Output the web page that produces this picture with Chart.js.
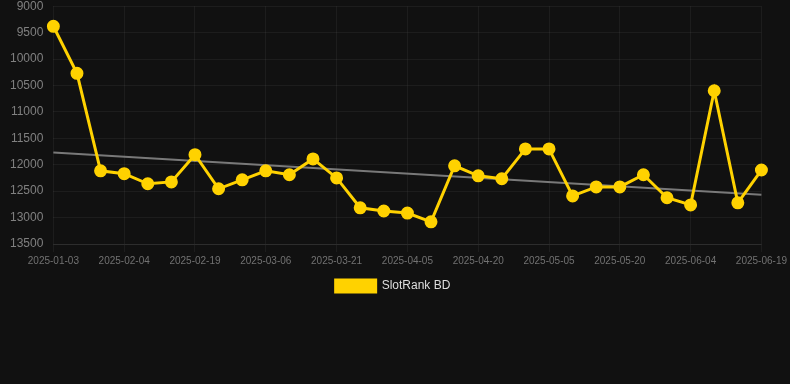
<!DOCTYPE html>
<html>
<head>
<meta charset="utf-8">
<script src="https://cdn.jsdelivr.net/npm/chart.js@4"></script>
<style>
  html, body { margin: 0; padding: 0; background: #111111; overflow: hidden; }
  #wrap { width: 790px; height: 313px; position: relative; margin-top: -11px; }
</style>
</head>
<body>
<div id="wrap"><canvas id="chart"></canvas></div>
<script>
// Dates (only every third one is shown on the axis)
const dates = [
  '2025-01-03', '2025-01-14', '2025-01-25', '2025-02-04', '2025-02-09', '2025-02-14',
  '2025-02-19', '2025-02-24', '2025-03-01', '2025-03-06', '2025-03-11', '2025-03-16',
  '2025-03-21', '2025-03-26', '2025-03-31', '2025-04-05', '2025-04-10', '2025-04-15',
  '2025-04-20', '2025-04-25', '2025-04-30', '2025-05-05', '2025-05-10', '2025-05-15',
  '2025-05-20', '2025-05-25', '2025-05-30', '2025-06-04', '2025-06-09', '2025-06-14',
  '2025-06-19'
];

// Rank values
const rankValues = [
  9380, 10270, 12115, 12170, 12360, 12325, 11810, 12455, 12285, 12115, 12190,
  11890, 12250, 12815, 12875, 12915, 13080, 12020, 12210, 12265, 11700, 11700,
  12590, 12420, 12420, 12190, 12625, 12760, 10600, 12720, 12100
];

// Trend line end points
const trendStart = 11770;
const trendEnd = 12570;
const trendValues = dates.map((d, i) => i === 0 ? trendStart : (i === dates.length - 1 ? trendEnd : null));

const gold = '#FFD200';

new Chart(document.getElementById('chart').getContext('2d'), {
  type: 'line',
  data: {
    labels: dates,
    datasets: [
      {
        label: 'SlotRank BD',
        data: rankValues,
        borderColor: gold,
        backgroundColor: gold,
        borderWidth: 3,
        pointRadius: 5,
        pointBackgroundColor: gold,
        pointBorderColor: gold,
        tension: 0
      },
      {
        label: 'trend',
        data: trendValues,
        borderColor: 'rgba(140, 140, 140, 0.85)',
        borderWidth: 2,
        pointRadius: 0,
        spanGaps: true,
        tension: 0
      }
    ]
  },
  options: {
    responsive: true,
    maintainAspectRatio: false,
    animation: false,
    layout: { padding: { left: 0, right: 4, top: 0, bottom: 0 } },
    scales: {
      x: {
        grid: { color: 'rgba(255,255,255,0.05)', drawTicks: true, tickLength: 8 },
        border: { color: 'rgba(255,255,255,0.08)' },
        ticks: {
          color: '#727272',
          padding: 3,
          font: { family: 'Arial, Liberation Sans', size: 10 },
          maxRotation: 0,
          autoSkip: false,
          callback: function(value, index) {
            return index % 3 === 0 ? dates[index] : null;
          }
        }
      },
      y: {
        reverse: true,
        min: 9000,
        max: 13500,
        grid: { color: 'rgba(255,255,255,0.05)', drawTicks: false },
        border: { display: false },
        ticks: {
          stepSize: 500,
          color: '#808080',
          padding: 10,
          font: { family: 'Arial, Liberation Sans', size: 12 },
          callback: v => String(v)
        }
      }
    },
    plugins: {
      legend: {
        position: 'bottom',
        labels: {
          color: '#dddddd',
          boxWidth: 40,
          boxHeight: 12,
          padding: 10,
          font: { family: 'Arial, Liberation Sans', size: 12 },
          filter: item => item.text !== 'trend'
        }
      },
      tooltip: { enabled: false }
    }
  }
});
</script>
</body>
</html>
